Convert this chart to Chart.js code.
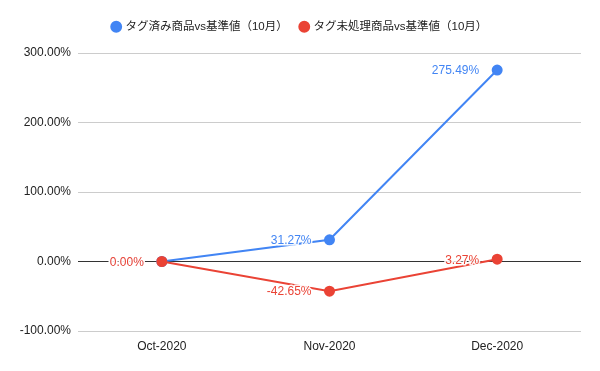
<!DOCTYPE html>
<html>
<head>
<meta charset="utf-8">
<script src="https://cdn.jsdelivr.net/npm/chart.js@4"></script>
<style>
  html, body { margin: 0; padding: 0; background: #fff; }
  #wrap { width: 600px; height: 371px; }
</style>
</head>
<body>
<div id="wrap"><canvas id="myChart"></canvas></div>
<script>
const months = ['Oct-2020', 'Nov-2020', 'Dec-2020']
const taggedValues = [0, 31.27, 275.49]
const untaggedValues = [0, -42.65, 3.27]
const seriesNames = ['タグ済み商品vs基準値（10月）', 'タグ未処理商品vs基準値（10月）']
const seriesColors = ['#4285F4', '#EA4335']
const yTicks = [-100, 0, 100, 200, 300]

const fontFamily = '"Liberation Sans", Arial, "Noto Sans CJK JP", sans-serif'

// value labels drawn to the left of each point, with a white halo
const pointLabels = {
    id: 'pointLabels',
    afterDatasetsDraw(chart) {
        const ctx = chart.ctx
        ctx.save()
        ctx.font = '12px ' + fontFamily
        ctx.textAlign = 'right'
        ctx.textBaseline = 'middle'
        ctx.lineJoin = 'round'
        // draw blue first so red sits on top
        ;[0, 1].forEach(i => {
            const meta = chart.getDatasetMeta(i)
            const ds = chart.data.datasets[i]
            meta.data.forEach((pt, j) => {
                const text = ds.data[j].toFixed(2) + '%'
                ctx.strokeStyle = 'rgba(255,255,255,0.9)'
                ctx.lineWidth = 3
                ctx.strokeText(text, pt.x - 18, pt.y + 1)
                ctx.fillStyle = ds.borderColor
                ctx.fillText(text, pt.x - 18, pt.y + 1)
            })
        })
        ctx.restore()
    }
}

// extra room under the legend
const legendGap = {
    id: 'legendGap',
    beforeInit(chart) {
        const fit = chart.legend.fit
        chart.legend.fit = function () {
            fit.bind(chart.legend)()
            this.height += 10.5
        }
    }
}

const renderChart = () => {
    const ctx = document.getElementById('myChart').getContext('2d')
    new Chart(ctx, {
        type: 'line',
        data: {
            labels: months,
            datasets: [taggedValues, untaggedValues].map((vals, i) => ({
                label: seriesNames[i],
                data: vals,
                borderColor: seriesColors[i],
                backgroundColor: seriesColors[i],
                borderWidth: 2,
                pointRadius: 4.5,
                pointHoverRadius: 4.5,
                tension: 0,
                order: i === 0 ? 1 : 0
            }))
        },
        options: {
            responsive: true,
            maintainAspectRatio: false,
            animation: false,
            layout: { padding: { top: 8, right: 0, bottom: 0, left: 0 } },
            plugins: {
                tooltip: { enabled: false },
                legend: {
                    position: 'top',
                    labels: {
                        usePointStyle: true,
                        pointStyle: 'circle',
                        boxWidth: 7,
                        boxHeight: 7,
                        padding: 13,
                        color: '#222',
                        font: { family: fontFamily, size: 11.5 },
                        sort: (a, b) => a.datasetIndex - b.datasetIndex
                    }
                }
            },
            scales: {
                x: {
                    offset: true,
                    grid: { display: false, drawTicks: false },
                    border: { display: false },
                    ticks: { color: '#222', padding: 8, font: { family: fontFamily, size: 12 } },
                    afterFit: scale => { scale.height = 40 }
                },
                y: {
                    min: -100,
                    max: 300,
                    afterBuildTicks: scale => { scale.ticks = yTicks.map(v => ({ value: v })) },
                    grid: {
                        drawTicks: false,
                        color: c => c.tick && c.tick.value === 0 ? '#333333' : '#cccccc',
                        lineWidth: 1
                    },
                    border: { display: false },
                    ticks: {
                        color: '#222',
                        padding: 7,
                        font: { family: fontFamily, size: 12 },
                        callback: v => v.toFixed(2) + '%'
                    },
                    afterFit: scale => { scale.width = 78 }
                },
                // empty right axis, only keeps the right margin
                yRight: {
                    position: 'right',
                    grid: { display: false, drawTicks: false },
                    border: { display: false },
                    ticks: { display: false },
                    afterFit: scale => { scale.width = 19 }
                }
            }
        },
        plugins: [pointLabels, legendGap]
    })
}

renderChart()
</script>
</body>
</html>
